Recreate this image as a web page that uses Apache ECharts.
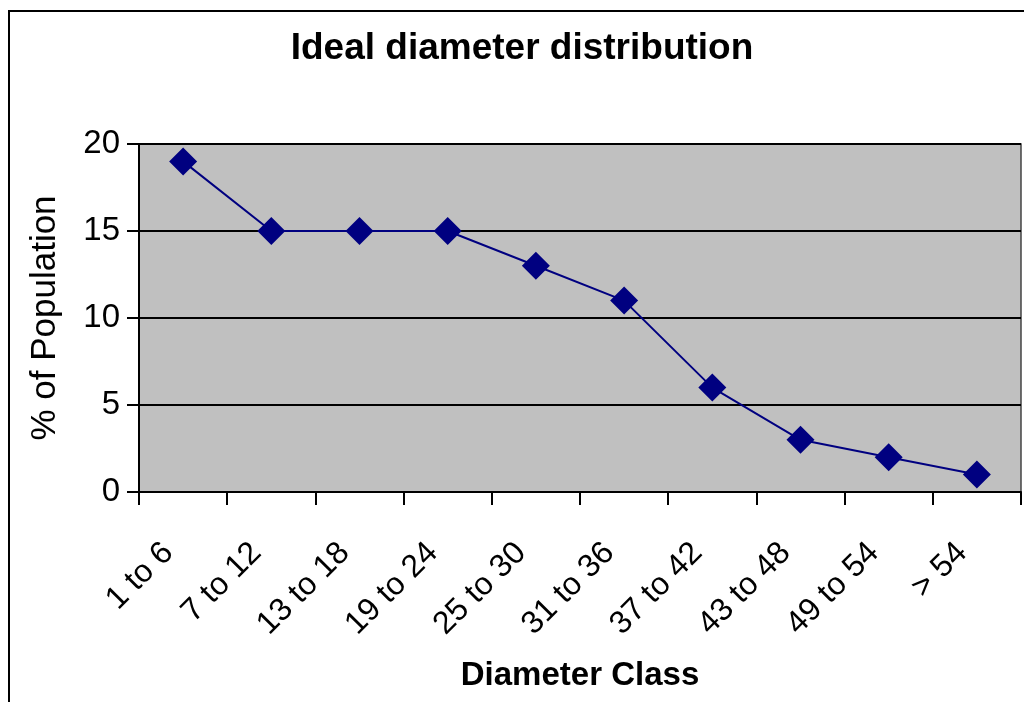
<!DOCTYPE html>
<html><head><meta charset="utf-8">
<script src="https://cdn.jsdelivr.net/npm/echarts@6/dist/echarts.min.js"></script>
<style>html,body{margin:0;padding:0;background:#fff}#c{width:1024px;height:702px}</style>
</head><body><div id="c"></div>
<script>
const categories = ['1 to 6','7 to 12','13 to 18','19 to 24','25 to 30','31 to 36','37 to 42','43 to 48','49 to 54','> 54'];
const population = [19, 15, 15, 15, 13, 11, 6, 3, 2, 1];
const yTicks = [0, 5, 10, 15, 20];
const FONT = '"Liberation Sans", Arial, sans-serif';

const chart = echarts.init(document.getElementById('c'), null, {renderer:'canvas'});
chart.setOption({
  animation: false,
  backgroundColor: '#fff',
  graphic: [{
    type: 'rect', z: -1,
    shape: {x: 9, y: 11, width: 1200, height: 900},
    style: {fill: 'none', stroke: '#000', lineWidth: 2}
  }],
  title: {
    text: 'Ideal diameter distribution',
    left: 517, top: 25, textAlign: 'center',
    textStyle: {fontFamily: FONT, fontSize: 37, fontWeight: 'bold', color: '#000'}
  },
  grid: {
    left: 139, right: 3, top: 144, bottom: 210,
    show: true, backgroundColor: '#c0c0c0', borderColor: '#444', borderWidth: 1.5
  },
  xAxis: {
    type: 'category', data: categories, boundaryGap: true,
    name: 'Diameter Class', nameLocation: 'middle', nameGap: 167,
    nameTextStyle: {fontFamily: FONT, fontSize: 33, fontWeight: 'bold', color: '#000'},
    axisLine: {lineStyle: {color: '#000', width: 2}},
    axisTick: {show: true, length: 13, alignWithLabel: false, lineStyle: {color: '#000', width: 2}},
    axisLabel: {
      rotate: 45, margin: 41, padding: [0, 21, 0, 0], interval: 0,
      fontFamily: FONT, fontSize: 32, color: '#000'
    },
    splitLine: {show: false}
  },
  yAxis: {
    type: 'value', min: yTicks[0], max: yTicks[yTicks.length-1], interval: 5,
    name: '% of Population', nameLocation: 'middle', nameGap: 76,
    nameTextStyle: {fontFamily: FONT, fontSize: 35, color: '#000'},
    axisLine: {show: true, lineStyle: {color: '#000', width: 2}},
    axisTick: {show: true, length: 12, lineStyle: {color: '#000', width: 2}},
    axisLabel: {margin: 19, fontFamily: FONT, fontSize: 33, color: '#000'},
    splitLine: {show: true, lineStyle: {color: '#000', width: 2}}
  },
  series: [{
    type: 'line', data: population,
    lineStyle: {color: '#000080', width: 2},
    itemStyle: {color: '#000080'},
    symbol: 'diamond', symbolSize: [28, 28], showSymbol: true
  }]
});
</script></body></html>
